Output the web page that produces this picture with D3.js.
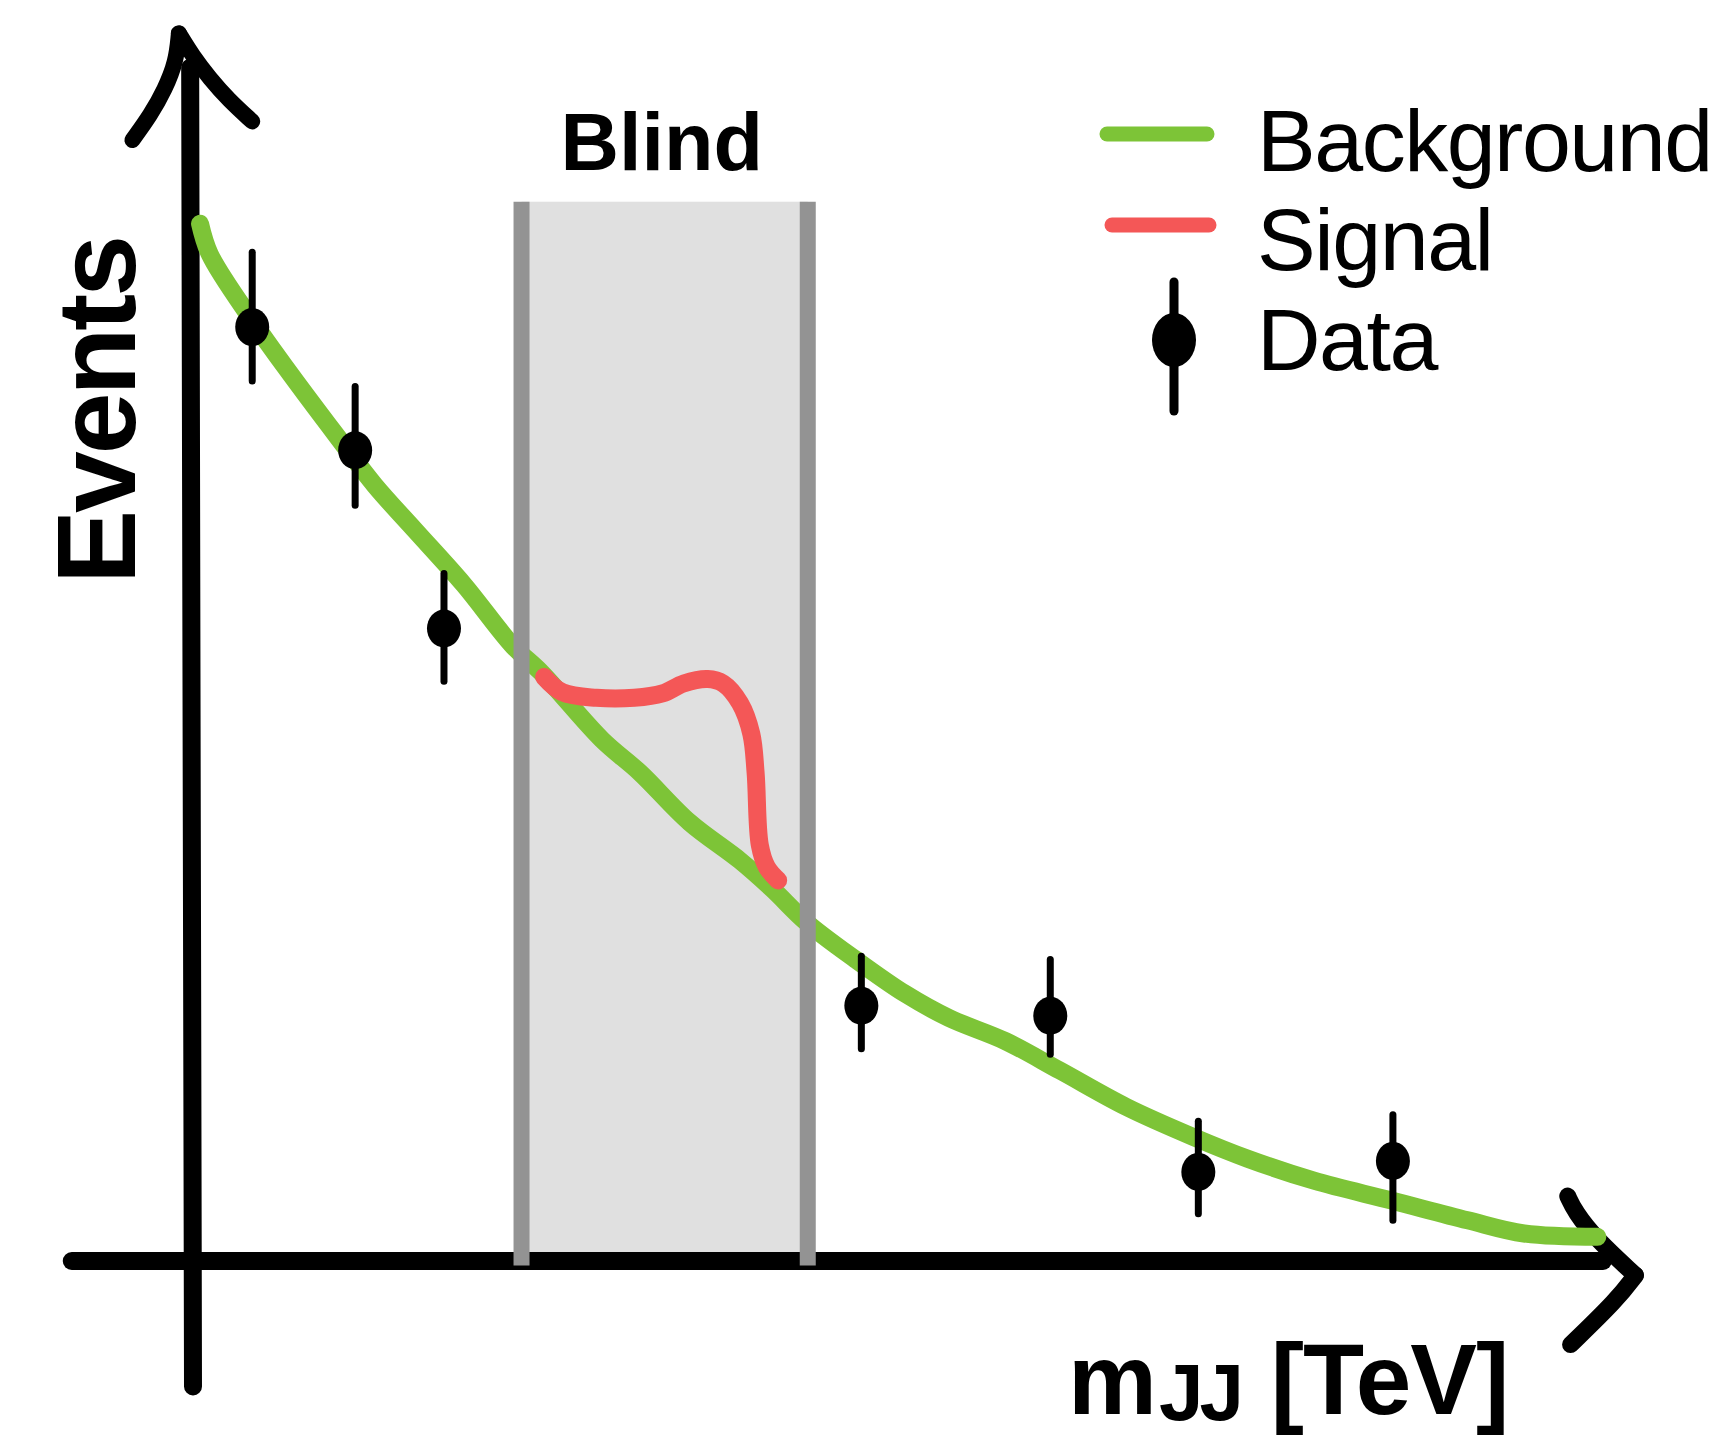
<!DOCTYPE html>
<html>
<head>
<meta charset="utf-8">
<script src="https://cdn.jsdelivr.net/npm/d3@7"></script>
<style>
  body { margin: 0; background: #fff; }
  svg { display: block; }
  text { font-family: "Liberation Sans", Arial, Helvetica, sans-serif; fill: #000; }
</style>
</head>
<body>
<svg width="1731" height="1441"></svg>
<script>
// Background fit (arbitrary units)
const bgX = [0.05, 0.12, 0.42, 0.67, 1.02, 1.29, 1.57, 1.92, 2.27, 2.47, 2.90, 3.17, 3.52, 3.88, 4.11, 4.35, 4.70, 5.05, 5.36, 5.76, 6.15, 6.62, 7.09, 7.48, 7.95, 8.50, 9.04, 9.44, 9.96];
const bgY = [9.43, 9.15, 8.55, 8.10, 7.50, 7.05, 6.65, 6.15, 5.59, 5.35, 4.74, 4.44, 3.99, 3.64, 3.38, 3.08, 2.74, 2.43, 2.21, 2.00, 1.73, 1.40, 1.13, 0.93, 0.73, 0.55, 0.37, 0.25, 0.22];

// Signal bump on top of background
const sigX = [2.49, 2.62, 2.86, 3.13, 3.33, 3.48, 3.65, 3.76, 3.88, 3.96, 3.99, 4.02, 4.07, 4.15];
const sigY = [5.31, 5.17, 5.12, 5.12, 5.16, 5.25, 5.29, 5.25, 5.07, 4.79, 4.44, 3.78, 3.58, 3.46];

// Data points with error bars
const dataX  = [0.42, 1.15, 1.78, 4.74, 6.08, 7.13, 8.51];
const dataY  = [8.49, 7.37, 5.75, 2.32, 2.23, 0.81, 0.91];
const dataHi = [9.17, 7.95, 6.25, 2.77, 2.74, 1.27, 1.33];
const dataLo = [8.00, 6.87, 5.27, 1.93, 1.88, 0.43, 0.37];

// Blinded window
const blindRange = [2.33, 4.36];
const blindTop = 9.63;

const legendLabels = ["Background", "Signal", "Data"];

const green = "#7dc437", red = "#f45757", gray = "#939393";

const svg = d3.select("svg");

const x = d3.scaleLinear().domain([0, 10]).range([193, 1603]);
const y = d3.scaleLinear().domain([0, 10]).range([1261, 161]);

const line = d3.line()
    .x(d => x(d[0]))
    .y(d => y(d[1]))
    .curve(d3.curveCatmullRom.alpha(0.5));

// Blind band fill
svg.append("rect")
    .attr("x", x(blindRange[0]))
    .attr("y", y(blindTop))
    .attr("width", x(blindRange[1]) - x(blindRange[0]))
    .attr("height", y(-0.04) - y(blindTop))
    .attr("fill", "#e0e0e0");

// Axes (hand-drawn style arrows)
const axisG = svg.append("g")
    .attr("stroke", "#000")
    .attr("fill", "none")
    .attr("stroke-linecap", "round")
    .attr("stroke-linejoin", "round");

axisG.append("line")
    .attr("x1", x(-0.86)).attr("x2", x(10.0))
    .attr("y1", y(0)).attr("y2", y(0))
    .attr("stroke-width", 18);

axisG.append("line")
    .attr("x1", x(0)).attr("x2", x(-0.02))
    .attr("y1", y(-1.14)).attr("y2", y(10.85))
    .attr("stroke-width", 18);

const arm = d3.line().x(d => x(d[0])).y(d => y(d[1])).curve(d3.curveBasis);

// y arrow head
axisG.append("path")
    .attr("d", arm([[-0.10, 11.16], [-0.12, 10.9], [-0.2, 10.65], [-0.3, 10.42], [-0.43, 10.19]]))
    .attr("stroke-width", 16);
axisG.append("path")
    .attr("d", arm([[-0.10, 11.16], [0.0, 10.95], [0.12, 10.75], [0.25, 10.56], [0.42, 10.36]]))
    .attr("stroke-width", 16);

// x arrow head
axisG.append("path")
    .attr("d", arm([[9.75, 0.59], [9.8, 0.45], [9.95, 0.2], [10.23, -0.13]]))
    .attr("stroke-width", 17);
axisG.append("path")
    .attr("d", arm([[10.23, -0.13], [10.1, -0.35], [9.77, -0.76]]))
    .attr("stroke-width", 17);

// Background curve
svg.append("path")
    .datum(bgX.map((v, i) => [v, bgY[i]]))
    .attr("d", line)
    .attr("fill", "none")
    .attr("stroke", green)
    .attr("stroke-width", 18)
    .attr("stroke-linecap", "round")
    .attr("stroke-linejoin", "round");

// Blind edges
svg.selectAll(".edge")
    .data(blindRange)
    .enter().append("line")
    .attr("class", "edge")
    .attr("x1", d => x(d)).attr("x2", d => x(d))
    .attr("y1", y(blindTop)).attr("y2", y(-0.04))
    .attr("stroke", gray)
    .attr("stroke-width", 16);

// Signal curve
svg.append("path")
    .datum(sigX.map((v, i) => [v, sigY[i]]))
    .attr("d", line)
    .attr("fill", "none")
    .attr("stroke", red)
    .attr("stroke-width", 18)
    .attr("stroke-linecap", "round")
    .attr("stroke-linejoin", "round");

// Data points
const pts = svg.selectAll(".pt")
    .data(dataX.map((v, i) => ({x: v, y: dataY[i], hi: dataHi[i], lo: dataLo[i]})))
    .enter().append("g")
    .attr("class", "pt");

pts.append("line")
    .attr("x1", d => x(d.x)).attr("x2", d => x(d.x))
    .attr("y1", d => y(d.hi)).attr("y2", d => y(d.lo))
    .attr("stroke", "#000")
    .attr("stroke-width", 7)
    .attr("stroke-linecap", "round");

pts.append("ellipse")
    .attr("cx", d => x(d.x))
    .attr("cy", d => y(d.y))
    .attr("rx", 17)
    .attr("ry", 19)
    .attr("fill", "#000");

// Blind label
svg.append("text")
    .attr("x", (x(blindRange[0]) + x(blindRange[1])) / 2 - 3)
    .attr("y", 170)
    .attr("text-anchor", "middle")
    .attr("font-size", 81)
    .attr("font-weight", "bold")
    .text("Blind");

// Axis titles
svg.append("text")
    .attr("transform", "translate(135,411) rotate(-90)")
    .attr("text-anchor", "middle")
    .attr("font-size", 111)
    .attr("font-weight", "bold")
    .attr("letter-spacing", -3)
    .text("Events");

const xt = svg.append("text")
    .attr("x", 1068)
    .attr("y", 1414)
    .attr("font-weight", "bold")
    .attr("font-size", 100);
xt.append("tspan").attr("letter-spacing", -4).text("m");
xt.append("tspan").attr("font-size", 80).attr("dy", 6).attr("dx", 6).attr("letter-spacing", -4).text("JJ");
xt.append("tspan").attr("dy", -6).attr("dx", 4).attr("letter-spacing", -1).text(" [TeV]");

// Legend
const leg = svg.append("g");
leg.append("line")
    .attr("x1", 1107).attr("x2", 1207).attr("y1", 134).attr("y2", 134)
    .attr("stroke", green).attr("stroke-width", 15).attr("stroke-linecap", "round");
leg.append("line")
    .attr("x1", 1112).attr("x2", 1209).attr("y1", 225).attr("y2", 225)
    .attr("stroke", red).attr("stroke-width", 15).attr("stroke-linecap", "round");
leg.append("line")
    .attr("x1", 1174).attr("x2", 1174).attr("y1", 282).attr("y2", 411)
    .attr("stroke", "#000").attr("stroke-width", 9).attr("stroke-linecap", "round");
leg.append("ellipse")
    .attr("cx", 1174).attr("cy", 340).attr("rx", 22).attr("ry", 27)
    .attr("fill", "#000");

leg.selectAll(".lt")
    .data(legendLabels)
    .enter().append("text")
    .attr("class", "lt")
    .attr("x", 1257)
    .attr("y", (d, i) => [171, 270, 370][i])
    .attr("font-size", 88)
    .attr("letter-spacing", -1.5)
    .text(d => d);
</script>
</body>
</html>
